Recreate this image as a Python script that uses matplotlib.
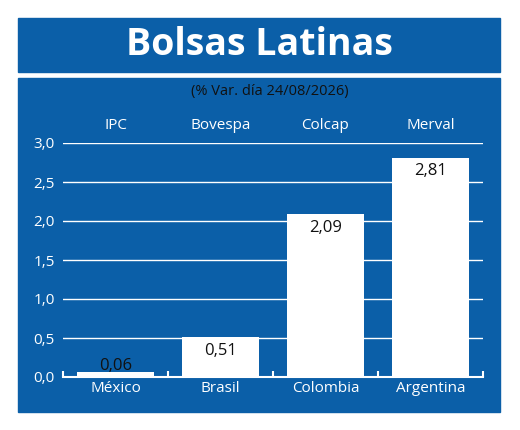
import matplotlib
matplotlib.use("Agg")
import matplotlib.pyplot as plt
from matplotlib.patches import Rectangle

indices = ["IPC", "Bovespa", "Colcap", "Merval"]
countries = ["México", "Brasil", "Colombia", "Argentina"]
values = [0.06, 0.51, 2.09, 2.81]
yticks = [0.0, 0.5, 1.0, 1.5, 2.0, 2.5, 3.0]

BLUE = "#0b5fa8"
plt.rcParams['font.family'] = ['Open Sans', 'DejaVu Sans']

fig = plt.figure(figsize=(5.2, 4.3), dpi=100, facecolor="white")
bg = fig.add_axes([0, 0, 1, 1], zorder=0)
bg.set_xlim(0, 1); bg.set_ylim(0, 1); bg.axis("off")
bg.add_patch(Rectangle((18/520, 1-72/430), 482/520, 54/430, color=BLUE))
bg.add_patch(Rectangle((18/520, 1-412/430), 482/520, 334/430, color=BLUE))
bg.text(259/520, 1-45/430, "Bolsas Latinas", color="white", fontsize=27, fontweight="bold", ha="center", va="center")
bg.text(270/520, 1-92/430, "(% Var. día 24/08/2026)", color="#111111", fontsize=10.5, ha="center", va="center")

ax = fig.add_axes([63/520, 1-377/430, 420/520, 234/430], zorder=2)
ax.set_facecolor("none")
x = range(len(values))
ax.bar(x, values, width=0.73, color="white", zorder=3)
ax.set_xlim(-0.5, 3.5)
ax.set_ylim(0, 3.0)
ax.set_yticks(yticks)
ax.set_yticklabels([f"{v:.1f}".replace(".", ",") for v in yticks], color="white", fontsize=11)
ax.tick_params(axis="y", length=0, pad=6)
for y in yticks[1:]:
    ax.axhline(y, color="white", lw=1, zorder=1)
for s in ["left", "right", "top"]:
    ax.spines[s].set_visible(False)
ax.spines["bottom"].set_color("white")
ax.spines["bottom"].set_linewidth(1.5)
ax.set_xticks([-0.5, 0.5, 1.5, 2.5, 3.5])
ax.set_xticklabels([])
ax.tick_params(axis="x", direction="in", length=4, color="white", width=1.5)
for i, (c, idx, v) in enumerate(zip(countries, indices, values)):
    ax.text(i, -0.05, c, color="white", fontsize=11, ha="center", va="top")
    ax.text(i, 3.22, idx, color="white", fontsize=11, ha="center", va="center")
    lab = f"{v:.2f}".replace(".", ",")
    if v < 0.3:
        ax.text(i, v - 0.02, lab, color="#111111", fontsize=12, ha="center", va="bottom", zorder=4)
    else:
        ax.annotate(lab, (i, v), xytext=(0, -4), textcoords="offset points", color="#111111",
                    fontsize=12, ha="center", va="top", zorder=4)
fig.savefig("out.png", dpi=100, facecolor="white")
